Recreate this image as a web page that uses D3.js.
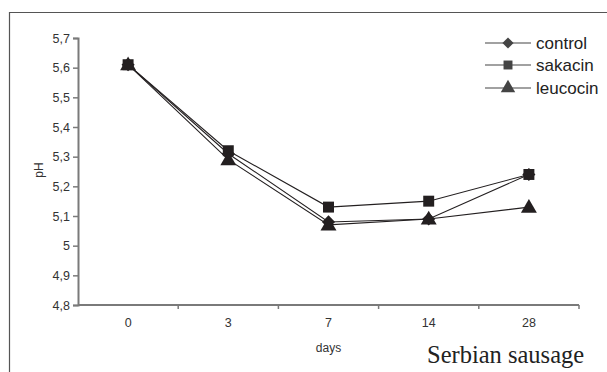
<!DOCTYPE html>
<html>
<head>
<meta charset="utf-8">
<script src="https://cdn.jsdelivr.net/npm/d3@7"></script>
<style>
  body { margin: 0; background: #fff; }
  svg { display: block; font-family: "Liberation Sans", Arial, sans-serif; }
</style>
</head>
<body>
<div id="chart"></div>
<script>
var width = 607,
height = 372;

var days = ['0', '3', '7', '14', '28'];
var control = [5.61, 5.31, 5.08, 5.09, 5.24];
var sakacin = [5.61, 5.32, 5.13, 5.15, 5.24];
var leucocin = [5.61, 5.29, 5.07, 5.09, 5.13];
var yTicks = [4.8, 4.9, 5.0, 5.1, 5.2, 5.3, 5.4, 5.5, 5.6, 5.7];

var series = [
  { name: 'control', values: control, shape: d3.symbolDiamond2 },
  { name: 'sakacin', values: sakacin, shape: d3.symbolSquare },
  { name: 'leucocin', values: leucocin, shape: d3.symbolTriangle }
];

const svg = d3.select('#chart').
append('svg').
attr('width', width).
attr('height', height);

// outer frame (runs off the right and bottom edges)
svg.append('path').
attr('d', 'M9.5,' + (height + 5) + 'V12.5H' + (width + 5)).
attr('fill', 'none').
attr('stroke', '#555').
attr('stroke-width', 1.2);

const xScale = d3.scaleBand().
domain(days).
range([78, 579]);

const yScale = d3.scaleLinear().
domain([4.8, 5.7]).
range([305, 38]);

const fmt = d => String(+d.toFixed(1)).replace('.', ',');

// y axis
const yAxis = d3.axisLeft(yScale).
tickValues(yTicks).
tickFormat(fmt).
tickSize(5).
tickPadding(3);

const gy = svg.append('g').
attr('transform', 'translate(78,0)').
call(yAxis);
gy.select('.domain').attr('stroke', '#7a7a7a').attr('stroke-width', 2);
gy.selectAll('.tick line').attr('stroke', '#7a7a7a').attr('stroke-width', 1.5);
gy.selectAll('.tick text').attr('font-size', 12.5).attr('fill', '#333').attr('font-family', '"Liberation Sans", Arial, sans-serif');

// x axis: labels centered in bands, ticks at band edges
const xAxis = d3.axisBottom(xScale).
tickSize(0).
tickPadding(13);

const gx = svg.append('g').
attr('transform', 'translate(0,305)').
call(xAxis);
gx.select('.domain').remove();
gx.selectAll('.tick text').attr('font-size', 12.5).attr('fill', '#333').attr('font-family', '"Liberation Sans", Arial, sans-serif');

svg.append('line').
attr('x1', 78).attr('x2', 579).
attr('y1', 305).attr('y2', 305).
attr('stroke', '#7a7a7a').
attr('stroke-width', 2);

svg.selectAll('.xedge').
data(days).
enter().
append('line').
attr('class', 'xedge').
attr('x1', d => xScale(d) + xScale.bandwidth()).
attr('x2', d => xScale(d) + xScale.bandwidth()).
attr('y1', 305).
attr('y2', 309).
attr('stroke', '#7a7a7a').
attr('stroke-width', 1.5);

// axis titles
svg.append('text').
attr('x', xScale('7') + xScale.bandwidth() / 2).
attr('y', 352).
attr('text-anchor', 'middle').
attr('font-size', 12).
attr('fill', '#333').
text('days');

svg.append('text').
attr('transform', 'translate(43,170) rotate(-90)').
attr('text-anchor', 'middle').
attr('font-size', 12).
attr('fill', '#333').
text('pH');

// lines and markers
const cx = d => xScale(d) + xScale.bandwidth() / 2;
const line = d3.line().
x((v, i) => cx(days[i])).
y(v => yScale(v));

series.forEach(s => {
  svg.append('path').
  attr('d', line(s.values)).
  attr('fill', 'none').
  attr('stroke', '#231f20').
  attr('stroke-width', 1.1);
});

const sizes = { control: 110, sakacin: 120, leucocin: 110 };
series.forEach(s => {
  svg.selectAll('.m-' + s.name).
  data(s.values).
  enter().
  append('path').
  attr('class', 'm-' + s.name).
  attr('transform', (v, i) => 'translate(' + cx(days[i]) + ',' + (yScale(v) + (s.name == 'leucocin' ? 1 : 0)) + ')').
  attr('d', d3.symbol().type(s.shape).size(sizes[s.name])).
  attr('fill', '#231f20');
});

// legend
const legY = [43, 65, 88];
series.forEach((s, i) => {
  svg.append('line').
  attr('x1', 485).attr('x2', 531).
  attr('y1', legY[i]).attr('y2', legY[i]).
  attr('stroke', '#444').
  attr('stroke-width', 1.2);
  svg.append('path').
  attr('transform', 'translate(508,' + legY[i] + ')').
  attr('d', d3.symbol().type(s.shape).size(s.name == 'leucocin' ? 90 : 80)).
  attr('fill', '#444');
  svg.append('text').
  attr('x', 536).
  attr('y', legY[i] + 6).
  attr('font-size', 17).
  attr('fill', '#222').
  text(s.name);
});

svg.append('text').
attr('x', 427).
attr('y', 363).
attr('font-family', '"Liberation Serif", "Times New Roman", serif').
attr('font-size', 24.5).
attr('fill', '#222').
text('Serbian sausage');
</script>
</body>
</html>
